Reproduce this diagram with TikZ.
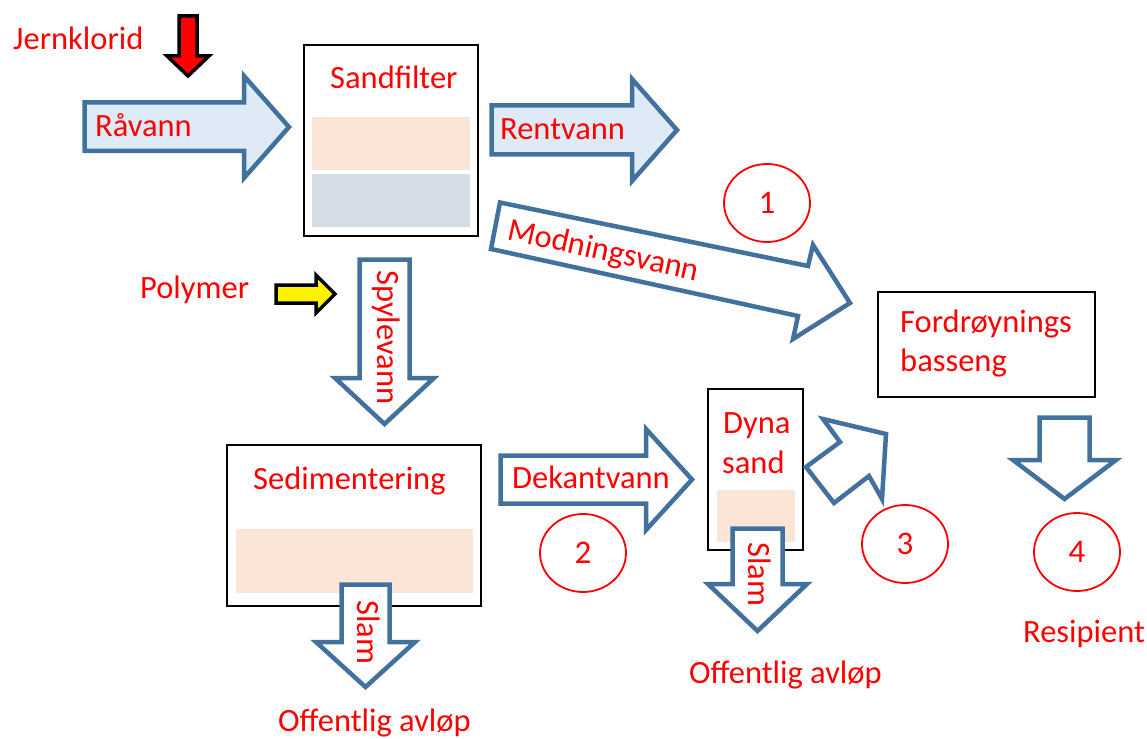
\documentclass[tikz,border=0pt]{standalone}
\usepackage{fontspec}
\setmainfont{Carlito}
\usetikzlibrary{shapes.geometric}
\definecolor{arrowblue}{HTML}{41719C}
\definecolor{lightblue}{HTML}{DEEBF7}
\definecolor{peach}{HTML}{FBE5D6}
\definecolor{greyblue}{HTML}{D6DCE5}
\definecolor{txtred}{HTML}{FF0000}
\tikzset{
  blockarrow/.style={draw=arrowblue, line width=4.5pt, line join=miter, fill=white},
  blockarrowfilled/.style={blockarrow, fill=lightblue},
  boxframe/.style={draw=black, line width=2.2pt, fill=white},
  lbl/.style={text=txtred, inner sep=0pt, font=\fontsize{32.5}{38}\selectfont},
  numc/.style={ellipse, draw=txtred, line width=1.8pt, minimum width=86pt, minimum height=78pt,
    text=txtred, inner sep=0pt, font=\fontsize{33}{38}\selectfont},
}
\begin{document}
\begin{tikzpicture}[x=1pt, y=-1pt]
\useasboundingbox (0,0) rectangle (1147,738);

% ---------- boxes ----------
\draw[boxframe] (304,45) rectangle (478,236);
\fill[peach] (312,117) rectangle (470,170);
\fill[greyblue] (312,174) rectangle (470,227);
\node[lbl, anchor=base west] (sandfilter) at (330,89) {Sandfilter};

\draw[boxframe] (227,445) rectangle (481,606);
\fill[peach] (236,529) rectangle (473,593);
\node[lbl, anchor=base west] (sediment) at (253,489) {Sedimentering};

\draw[boxframe] (708,389) rectangle (803,550);
\fill[peach] (717,490) rectangle (795,542);
\node[lbl, anchor=base west] (dyna) at (723,433) {Dyna};
\node[lbl, anchor=base west] (sand) at (722,473) {sand};

\draw[boxframe] (878,292) rectangle (1095,397);
\node[lbl, anchor=base west] (ford1) at (900,332) {Fordrøynings};
\node[lbl, anchor=base west] (ford2) at (900,371) {basseng};

% ---------- small input arrows ----------
\draw[fill=red, draw=black, line width=3.5pt, line join=miter]
  (179,16) -- (197,16) -- (197,56) -- (209,56) -- (188,76) -- (167,56) -- (179,56) -- cycle;
\node[lbl, anchor=base west] (jern) at (13,50) {Jernklorid};

\draw[fill=yellow, draw=black, line width=3.5pt, line join=miter]
  (276,285) -- (316,285) -- (316,275) -- (335,294) -- (316,313) -- (316,303) -- (276,303) -- cycle;
\node[lbl, anchor=base west] (polymer) at (140,298) {Polymer};

% ---------- block arrows ----------
\draw[blockarrowfilled]
  (84.5,102.5) -- (244,102.5) -- (244,76) -- (289,127) -- (244,178) -- (244,151) -- (84.5,151) -- cycle;
\node[lbl, anchor=base west] (ravann) at (95,137) {Råvann};

\draw[blockarrowfilled]
  (491.5,105.5) -- (632,105.5) -- (632,79) -- (677,130) -- (632,181) -- (632,154.5) -- (491.5,154.5) -- cycle;
\node[lbl, anchor=base west] (rentvann) at (500,140) {Rentvann};

\draw[blockarrow]
  (500,202.5) -- (808,266) -- (813,245) -- (850,303) -- (793,339) -- (798,316) -- (491,249) -- cycle;
\node[lbl, anchor=base west, rotate=-12.5] (modning) at (506,239) {Modningsvann};

\draw[blockarrow]
  (359.5,259.5) -- (409.5,259.5) -- (409.5,378) -- (434,378) -- (384.5,424) -- (335,378) -- (359.5,378) -- cycle;
\node[lbl, anchor=base west, rotate=-90] (spyle) at (377,270) {Spylevann};

\draw[blockarrow]
  (341.5,584.5) -- (389.5,584.5) -- (389.5,642) -- (415,642) -- (365.5,687) -- (316,642) -- (341.5,642) -- cycle;
\node[lbl, anchor=base west, rotate=-90] (slam1) at (357,600) {Slam};

\draw[blockarrow]
  (500.5,455.5) -- (646,455.5) -- (646,429) -- (692,479.5) -- (646,530) -- (646,503.5) -- (500.5,503.5) -- cycle;
\node[lbl, anchor=base west] (dekant) at (512,488) {Dekantvann};

\draw[blockarrow]
  (732.5,528.5) -- (782.5,528.5) -- (782.5,584) -- (807,584) -- (757.5,631) -- (708,584) -- (732.5,584) -- cycle;
\node[lbl, anchor=base west, rotate=-90] (slam2) at (748,542) {Slam};

\draw[blockarrow]
  (823,419) -- (840,442) -- (806,467) -- (834,503) -- (869,476) -- (882,499) -- (886,434) -- cycle;

\draw[blockarrow]
  (1039.5,417.5) -- (1089.5,417.5) -- (1089.5,460) -- (1116,460) -- (1064.5,499) -- (1013,460) -- (1039.5,460) -- cycle;

% ---------- outlet labels ----------
\node[lbl, anchor=base west] (off1) at (278,731) {Offentlig avløp};
\node[lbl, anchor=base west] (off2) at (689,683) {Offentlig avløp};
\node[lbl, anchor=base west] (resip) at (1023,642) {Resipient};

% ---------- numbered circles ----------
\node[numc] (c1) at (767,203) {1};
\node[numc] (c2) at (583,553) {2};
\node[numc] (c3) at (905,544) {3};
\node[numc] (c4) at (1077,552) {4};
\end{tikzpicture}
\end{document}
